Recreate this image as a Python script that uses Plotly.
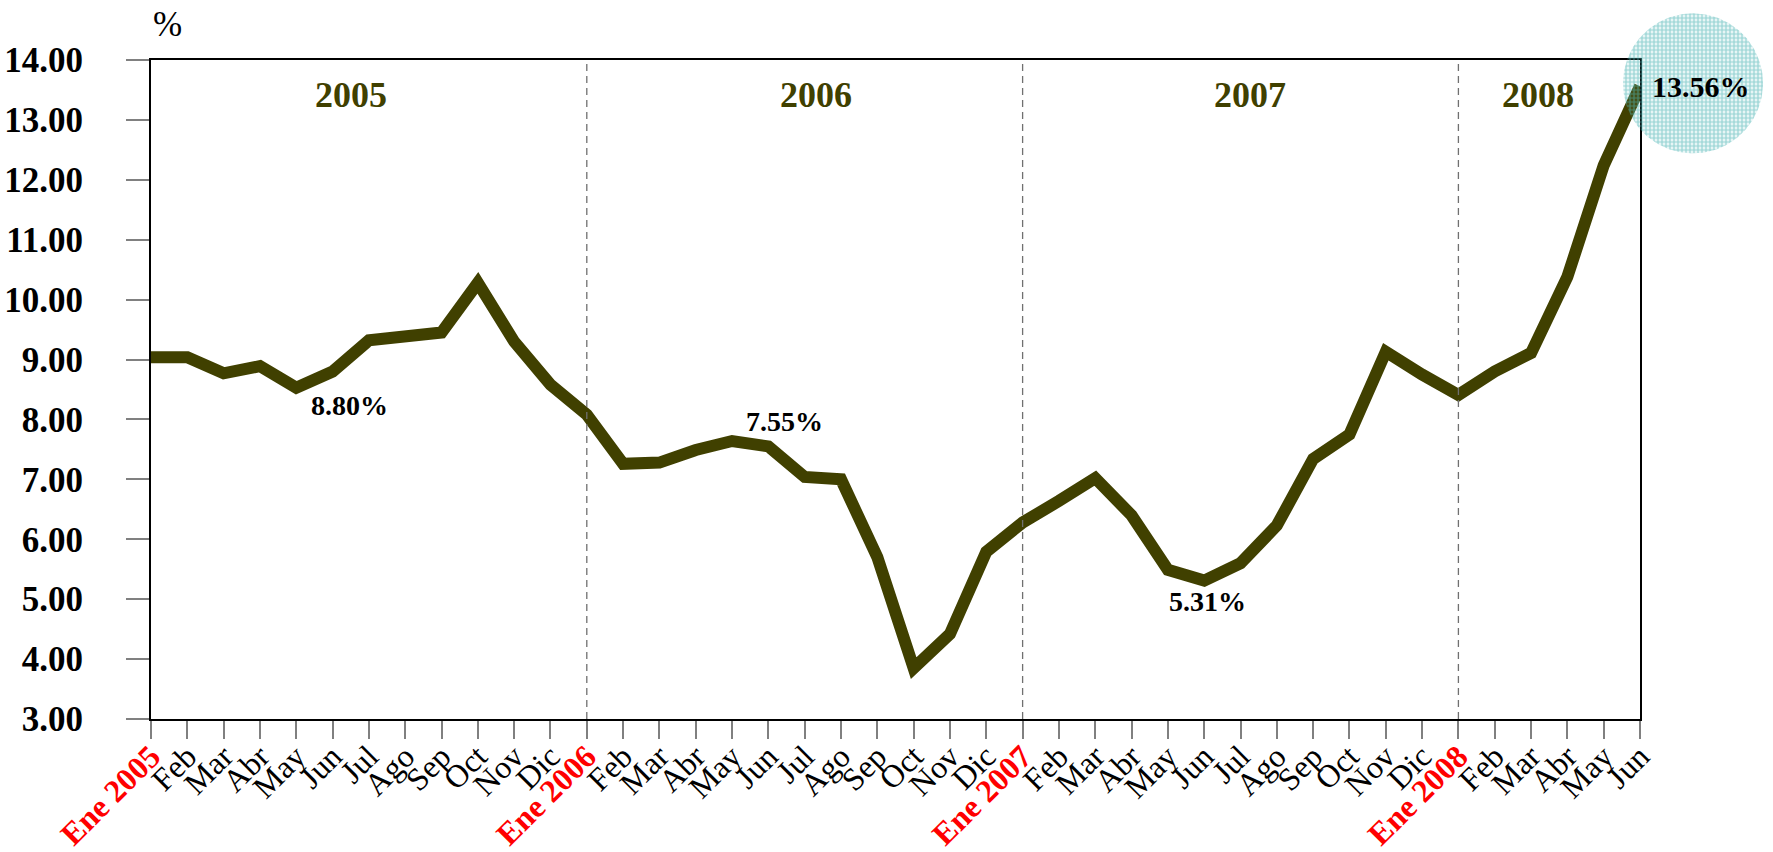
import numpy as np
import plotly.graph_objects as go

# ---------------- data ----------------
years = [2005, 2006, 2007, 2008]
months = ["Ene", "Feb", "Mar", "Abr", "May", "Jun", "Jul", "Ago", "Sep", "Oct", "Nov", "Dic"]
months_per_year = [12, 12, 12, 6]
values = [9.04, 9.04, 8.77, 8.89, 8.53, 8.80, 9.32, 9.38, 9.45, 10.28, 9.30, 8.58,
          8.08, 7.26, 7.28, 7.49, 7.64, 7.55, 7.04, 7.00, 5.70, 3.85, 4.42, 5.79,
          6.28, 6.64, 7.02, 6.40, 5.49, 5.31, 5.60, 6.23, 7.34, 7.75, 9.13, 8.75,
          8.41, 8.80, 9.11, 10.38, 12.24, 13.56]
labelled_points = [5, 17, 29, 41]          # indices with value labels
y_ticks = [3, 4, 5, 6, 7, 8, 9, 10, 11, 12, 13, 14]

# ---------------- tick labels ----------------
tick_text = []
year_start_idx = []
for yr, n in zip(years, months_per_year):
    for m in range(n):
        if m == 0:
            year_start_idx.append(len(tick_text))
            tick_text.append(f"<b><span style='color:#ff0000'>Ene {yr}</span></b>")
        else:
            tick_text.append(months[m])
x_idx = list(range(len(values)))

# ---------------- layout geometry (pixels) ----------------
W, H = 1773, 852
PL, PR, PT, PB = 151, 1640, 60, 719
xmin, xmax = 0, len(values) - 1
ymin, ymax = 3, 14
ppx = (PR - PL) / (xmax - xmin)
ppy = (PB - PT) / (ymax - ymin)

OLIVE = "#404000"
SERIF = "Liberation Serif"

fig = go.Figure()

fig.add_trace(go.Scatter(
    x=x_idx, y=values, mode="lines",
    line=dict(color=OLIVE, width=12),
    xaxis="x", yaxis="y", hoverinfo="skip", showlegend=False,
))

# highlight circle (dotted teal) around the last value, on a full-figure overlay axis
last_i = len(values) - 1
cx = last_i + 53 / ppx
cy = values[last_i] + 3 / ppy
r_px = 70
t = np.linspace(0, 2 * np.pi, 181)
fig.add_trace(go.Scatter(
    x=cx + r_px / ppx * np.cos(t), y=cy + r_px / ppy * np.sin(t),
    mode="lines", line=dict(width=0, color="rgba(0,0,0,0)"),
    fill="toself", fillcolor="rgba(0,0,0,0)",
    fillpattern=dict(shape=".", fgcolor="#4fb5b5", bgcolor="rgba(0,0,0,0)",
                     size=4, solidity=0.7),
    xaxis="x2", yaxis="y2", hoverinfo="skip", showlegend=False,
))

# dashed year separators
shapes = []
for i in year_start_idx[1:]:
    shapes.append(dict(type="line", xref="x", yref="y", x0=i, x1=i, y0=ymin, y1=ymax,
                       line=dict(color="#707070", width=1.3, dash="7px,5px")))

annotations = []
# year labels
year_label_x = [5.5, 18.3, 30.25, 38.2]
for yr, xp in zip(years, year_label_x):
    annotations.append(dict(x=xp, y=1 - 95.5 / H, xref="x", yref="paper",
                            xanchor="center", yanchor="middle",
                            text=f"<b>{yr}</b>", showarrow=False,
                            font=dict(family=SERIF, size=36, color=OLIVE)))
# value labels
offsets = {5: (17, -34), 17: (16, 25), 29: (3, -21), 41: (61, 0)}
for i in labelled_points:
    dx, dy = offsets[i]
    annotations.append(dict(x=i, y=values[i], xref="x", yref="y",
                            xanchor="center", yanchor="middle",
                            text=f"<b>{values[i]:.2f}%</b>", showarrow=False,
                            xshift=dx, yshift=dy,
                            font=dict(family=SERIF, size=30 if i == 41 else 28, color="black")))
# unit label
annotations.append(dict(x=167 / W, y=1 - 24.5 / H, xref="paper", yref="paper",
                        xanchor="center", yanchor="middle",
                        text="%", showarrow=False,
                        font=dict(family=SERIF, size=35, color="black")))

fig.update_layout(
    width=W, height=H,
    margin=dict(l=0, r=0, t=0, b=0),
    paper_bgcolor="white", plot_bgcolor="rgba(0,0,0,0)",
    showlegend=False,
    shapes=shapes, annotations=annotations,
    xaxis=dict(
        domain=[PL / W, PR / W], range=[xmin, xmax],
        tickmode="array", tickvals=x_idx, ticktext=tick_text, tickangle=-45,
        tickfont=dict(family=SERIF, size=32, color="black"),
        ticks="outside", ticklen=18, tickcolor="#808080", tickwidth=1.5,
        ticklabelstandoff=-14,
        showline=True, linecolor="black", linewidth=2, mirror=True,
        showgrid=False, zeroline=False, automargin=False,
    ),
    yaxis=dict(
        domain=[1 - PB / H, 1 - PT / H], range=[ymin, ymax],
        tickmode="array", tickvals=y_ticks, ticktext=[f"{v:.2f}" for v in y_ticks],
        tickfont=dict(family=SERIF, size=35, color="black", weight="bold"),
        ticks="outside", ticklen=23, tickcolor="#808080", tickwidth=1.5,
        ticklabelstandoff=36,
        showline=True, linecolor="black", linewidth=2, mirror=True,
        showgrid=False, zeroline=False, automargin=False,
    ),
    xaxis2=dict(domain=[0, 1], range=[xmin - PL / ppx, xmax + (W - PR) / ppx],
                visible=False, anchor="y2"),
    yaxis2=dict(domain=[0, 1], range=[ymin - (H - PB) / ppy, ymax + PT / ppy],
                visible=False, anchor="x2"),
)

fig.write_html("out.html", config={"displayModeBar": False},
               post_script="document.body.style.margin='0px';document.body.style.overflow='hidden';")
